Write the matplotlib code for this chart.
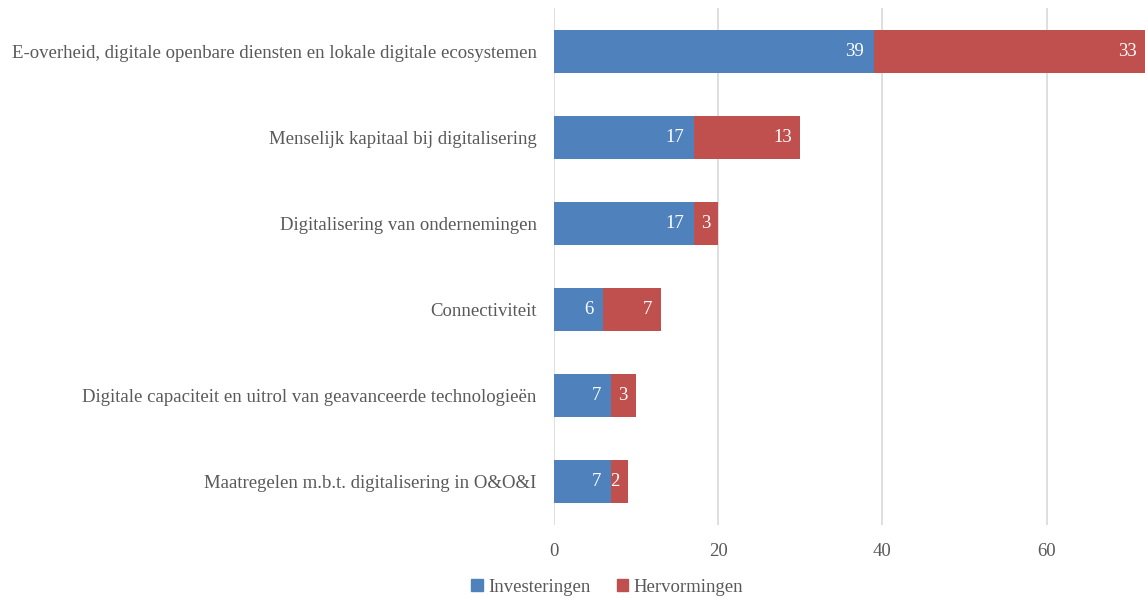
import matplotlib
matplotlib.use("Agg")
import matplotlib.pyplot as plt
from matplotlib.patches import Patch

categories = [
    "E-overheid, digitale openbare diensten en lokale digitale ecosystemen",
    "Menselijk kapitaal bij digitalisering",
    "Digitalisering van ondernemingen",
    "Connectiviteit",
    "Digitale capaciteit en uitrol van geavanceerde technologieën",
    "Maatregelen m.b.t. digitalisering in O&O&I",
]
investeringen = [39, 17, 17, 6, 7, 7]
hervormingen = [33, 13, 3, 7, 3, 2]
xticks = [0, 20, 40, 60]

BLUE = "#4F81BD"
RED = "#C0504D"
GREY = "#595959"
FS = 13.5

plt.rcParams['font.family'] = ['Liberation Serif', 'DejaVu Serif']

fig = plt.figure(figsize=(11.45, 5.98), dpi=100)
ax = fig.add_axes([554 / 1145, 1 - 525 / 598, 591 / 1145, 517 / 598])

y = list(range(len(categories)))
ax.barh(y, investeringen, height=0.5, color=BLUE, zorder=3)
ax.barh(y, hervormingen, left=investeringen, height=0.5, color=RED, zorder=3)

for i in y:
    ax.text(investeringen[i] - 1.2, i, str(investeringen[i]), ha='right', va='center',
            color='white', fontsize=FS, zorder=4)
    end = investeringen[i] + hervormingen[i]
    ax.text(end - 1.0, i, str(hervormingen[i]), ha='right', va='center',
            color='white', fontsize=FS, zorder=4)

ax.set_xlim(0, 72)
ax.set_ylim(len(categories) - 0.5, -0.5)
ax.set_xticks(xticks)
ax.set_yticks(y)
ax.set_yticklabels(categories)
ax.tick_params(axis='both', length=0, labelsize=FS, colors=GREY)
ax.tick_params(axis='x', pad=13)
ax.tick_params(axis='y', pad=12.5)
ax.grid(axis='x', color='#D9D9D9', linewidth=1.2, zorder=0)
for s in ax.spines.values():
    s.set_visible(False)

handles = [Patch(color=BLUE, label='Investeringen'), Patch(color=RED, label='Hervormingen')]
leg = fig.legend(handles=handles, loc='center', bbox_to_anchor=(0.5305, 1 - 587 / 598), ncol=2,
                 frameon=False, fontsize=FS, handlelength=0.6, handleheight=0.6,
                 handletextpad=0.3, columnspacing=1.4)
for t in leg.get_texts():
    t.set_color(GREY)

fig.savefig("out.png", dpi=100)
